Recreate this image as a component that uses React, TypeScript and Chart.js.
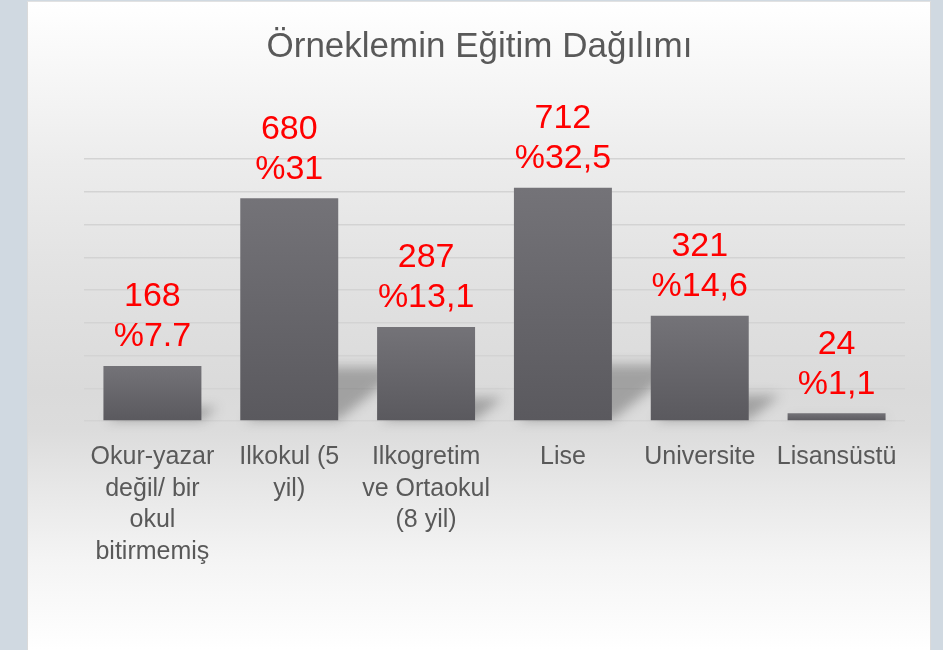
import React, { useEffect, useRef } from "react";
import { Chart, registerables } from "chart.js";

Chart.register(...registerables);

const titleText = "Örneklemin Eğitim Dağılımı";
const categories: (string | string[])[] = [
  ["Okur-yazar", "değil/ bir", "okul", "bitirmemiş"],
  ["Ilkokul (5", "yil)"],
  ["Ilkogretim", "ve Ortaokul", "(8 yil)"],
  "Lise",
  "Universite",
  "Lisansüstü",
];
const counts = [168, 680, 287, 712, 321, 24];
const percentLabels = ["%7.7", "%31", "%13,1", "%32,5", "%14,6", "%1,1"];
const yMax = 800;
const yStep = 100;

const FONT = '"Liberation Sans", Arial, sans-serif';

const shadowPlugin = {
  id: "barShadow",
  beforeDatasetsDraw(chart: any) {
    const meta = chart.getDatasetMeta(0);
    const ctx = chart.ctx as CanvasRenderingContext2D;
    ctx.save();
    ctx.filter = "blur(6px)";
    ctx.fillStyle = "rgba(40,40,40,0.32)";
    meta.data.forEach((bar: any) => {
      const { x, y, base, width } = bar.getProps(["x", "y", "base", "width"], true);
      const h = base - y;
      const l = x - width / 2;
      const r = x + width / 2;
      const dx = h * 0.3;
      const dy = h * 0.24;
      ctx.beginPath();
      ctx.moveTo(l + 4, base);
      ctx.lineTo(r, base);
      ctx.lineTo(r + dx, base - dy);
      ctx.lineTo(l + dx, base - dy);
      ctx.closePath();
      ctx.fill();
    });
    ctx.restore();
  },
};

const labelPlugin = {
  id: "valueLabels",
  afterDatasetsDraw(chart: any) {
    const meta = chart.getDatasetMeta(0);
    const ctx = chart.ctx as CanvasRenderingContext2D;
    ctx.save();
    ctx.font = `34px ${FONT}`;
    ctx.fillStyle = "#ff0000";
    ctx.textAlign = "center";
    ctx.textBaseline = "middle";
    meta.data.forEach((bar: any, i: number) => {
      ctx.fillText(String(counts[i]), bar.x, bar.y - 69);
      ctx.fillText(percentLabels[i], bar.x, bar.y - 29);
    });
    ctx.restore();
  },
};

export default function App() {
  const canvasRef = useRef<HTMLCanvasElement | null>(null);

  useEffect(() => {
    if (!canvasRef.current) return;
    const chart = new Chart(canvasRef.current, {
      type: "bar",
      data: {
        labels: categories,
        datasets: [
          {
            data: counts,
            backgroundColor: (c: any) => {
              const ch = c.chart;
              const ys = ch.scales?.y;
              if (!ys || c.raw == null) return "#67666b";
              const top = ys.getPixelForValue(c.raw);
              const bottom = ys.getPixelForValue(0);
              if (!isFinite(top) || !isFinite(bottom) || top === bottom) return "#67666b";
              const g = ch.ctx.createLinearGradient(0, top, 0, bottom);
              g.addColorStop(0, "#747378");
              g.addColorStop(1, "#5a595e");
              return g;
            },
            borderWidth: 0,
            barPercentage: 0.716,
            categoryPercentage: 1,
          },
        ],
      },
      options: {
        animation: false,
        responsive: false,
        maintainAspectRatio: false,
        layout: { padding: { left: 54, right: 38, top: 0, bottom: 0 } },
        plugins: {
          legend: { display: false },
          tooltip: { enabled: false },
          title: {
            display: true,
            text: titleText,
            color: "#595959",
            font: { family: FONT, size: 35, weight: "normal", lineHeight: 1.2 },
            padding: { top: 26, bottom: 91 },
          },
        },
        scales: {
          x: {
            grid: { display: false, drawTicks: false },
            border: { display: false },
            ticks: {
              color: "#595959",
              font: { family: FONT, size: 25, lineHeight: 1.27 },
              padding: 20,
              maxRotation: 0,
              minRotation: 0,
              autoSkip: false,
            },
            afterFit: (s: any) => {
              s.height = 229;
            },
          },
          y: {
            min: 0,
            max: yMax,
            ticks: { display: false, stepSize: yStep },
            grid: { color: "#d3d3d3", lineWidth: 1.5, drawTicks: false },
            border: { display: false },
            afterFit: (s: any) => {
              s.width = 30;
            },
          },
        },
      },
      plugins: [shadowPlugin, labelPlugin],
    });
    return () => chart.destroy();
  }, []);

  return (
    <div
      style={{
        position: "fixed",
        left: 0,
        top: 0,
        width: 943,
        height: 650,
        background: "#d0d9e1",
        overflow: "hidden",
      }}
    >
      <div
        style={{
          position: "absolute",
          left: 27,
          top: 1,
          width: 904,
          height: 649,
          boxSizing: "border-box",
          borderLeft: "1px solid #dadada",
          borderRight: "1px solid #dadada",
          borderTop: "1px solid #e2e2e2",
          background:
            "linear-gradient(to bottom, #ffffff 0%, #f6f6f6 12%, #ececec 25%, #e2e2e2 42%, #dadada 60%, #dcdcdc 66%, #e6e6e6 74%, #f4f4f4 86%, #ffffff 100%)",
        }}
      />
      <canvas
        ref={canvasRef}
        width={943}
        height={650}
        style={{ position: "absolute", left: 0, top: 0, width: 943, height: 650 }}
      />
    </div>
  );
}
